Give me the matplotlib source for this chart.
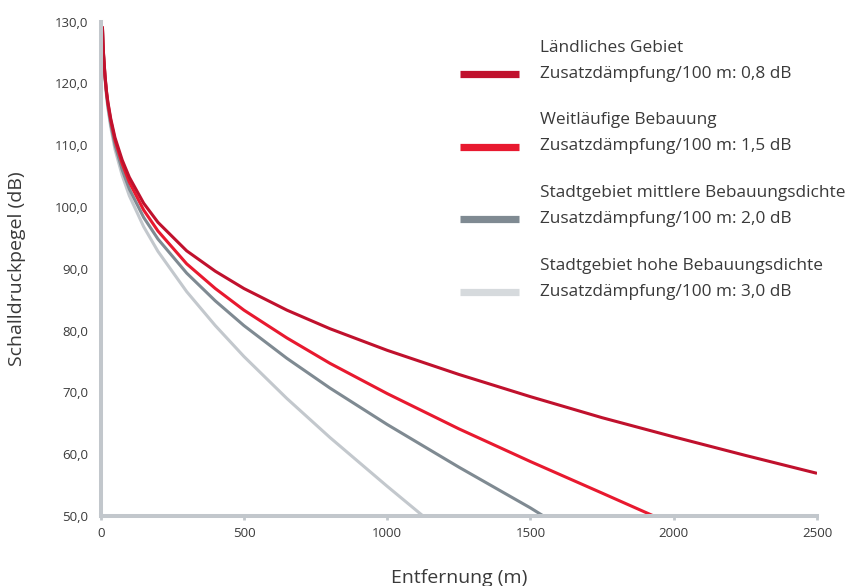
import matplotlib.pyplot as plt
from matplotlib.lines import Line2D
from matplotlib.ticker import FuncFormatter

plt.rcParams['font.family'] = ['Open Sans', 'DejaVu Sans']

# distance (m) and sound pressure level (dB)
x_rural = [6, 8, 10, 15, 20, 25, 35, 50, 75, 100, 150, 200, 300, 400, 500, 650, 800,
           1000, 1250, 1500, 1750, 2000, 2250, 2500]
y_rural = [129.2, 126.6, 124.7, 121.3, 118.8, 117.0, 114.3, 111.2, 107.6, 104.8,
           100.6, 97.5, 92.9, 89.6, 86.8, 83.3, 80.3, 76.8, 72.9, 69.3, 65.9,
           62.8, 59.8, 56.9]

x_spread = [6, 8, 10, 15, 20, 25, 35, 50, 75, 100, 150, 200, 300, 400, 500, 650, 800,
            1000, 1250, 1500, 1750, 1930]
y_spread = [129.2, 126.6, 124.6, 121.2, 118.7, 116.8, 114.0, 110.8, 107.0, 104.0,
            99.5, 96.1, 90.8, 86.8, 83.3, 78.8, 74.7, 69.8, 64.1, 58.8, 53.7, 50.0]

x_medium = [6, 8, 10, 15, 20, 25, 35, 50, 75, 100, 150, 200, 300, 400, 500, 650, 800,
            1000, 1250, 1500, 1545]
y_medium = [129.1, 126.5, 124.5, 121.0, 118.4, 116.4, 113.4, 110.0, 106.0, 102.9,
            98.3, 94.8, 89.3, 84.8, 80.8, 75.5, 70.7, 64.8, 57.9, 51.3, 50.0]

x_dense = [6, 8, 10, 15, 20, 25, 35, 50, 75, 100, 150, 200, 300, 400, 500, 650, 800,
           1000, 1125]
y_dense = [129.1, 126.4, 124.3, 120.8, 118.1, 116.0, 112.9, 109.3, 105.1, 101.8,
           96.8, 92.8, 86.3, 80.8, 75.8, 69.0, 62.7, 54.8, 50.0]

titles = ['Ländliches Gebiet', 'Weitläufige Bebauung',
          'Stadtgebiet mittlere Bebauungsdichte', 'Stadtgebiet hohe Bebauungsdichte']
damping = ['0,8', '1,5', '2,0', '3,0']
colors = ['#c0112d', '#e8192f', '#7f8a92', '#c3c8cd']
legend_colors = ['#c0112d', '#e8192f', '#7f8a92', '#d6dadd']

axis_col = '#c2c7cc'
text_col = '#3a3a3a'

fig = plt.figure(figsize=(8.54, 5.86), dpi=100)
ax = fig.add_axes([0.1179, 0.1195, 0.8388, 0.8438])

series = [(x_dense, y_dense), (x_medium, y_medium), (x_spread, y_spread), (x_rural, y_rural)]
cols = [colors[3], colors[2], colors[1], colors[0]]
for (xs, ys), c in zip(series, cols):
    ax.plot(xs, ys, color=c, lw=2.2, solid_capstyle='butt', solid_joinstyle='round')

ax.set_xlim(0, 2500)
ax.set_ylim(50, 130)
ax.set_xticks(range(0, 2501, 500))
ax.set_yticks(range(50, 131, 10))
ax.yaxis.set_major_formatter(FuncFormatter(lambda v, p: '{:.1f}'.format(v).replace('.', ',')))

for s in ['top', 'right']:
    ax.spines[s].set_visible(False)
for s in ['left', 'bottom']:
    ax.spines[s].set_color(axis_col)
    ax.spines[s].set_linewidth(2.9)
    ax.spines[s].set_zorder(3)

ax.tick_params(axis='x', length=3, width=2, color=axis_col, pad=5,
               labelsize=9.5, labelcolor=text_col)
ax.tick_params(axis='y', length=0, pad=9, labelsize=9.5, labelcolor=text_col)

ax.set_xlabel('Entfernung (m)', fontsize=14, color=text_col, labelpad=21)
ax.set_ylabel('Schalldruckpegel (dB)', fontsize=14, color=text_col, labelpad=21)

# legend drawn by hand: two text lines, handle on the second line
H = 586.0
W = 854.0
y0 = 74.0
step = 72.5
for i in range(4):
    yl = y0 + i * step
    fig.add_artist(Line2D([460 / W, 519 / W], [1 - yl / H, 1 - yl / H],
                          color=legend_colors[i], lw=5.2, solid_capstyle='butt'))
    fig.text(540 / W, 1 - (yl - 26) / H, titles[i], fontsize=12.4, color=text_col,
             va='center', ha='left')
    fig.text(540 / W, 1 - yl / H, 'Zusatzdämpfung/100 m: ' + damping[i] + ' dB',
             fontsize=12.4, color=text_col, va='center', ha='left')

fig.savefig('out.png', dpi=100)
